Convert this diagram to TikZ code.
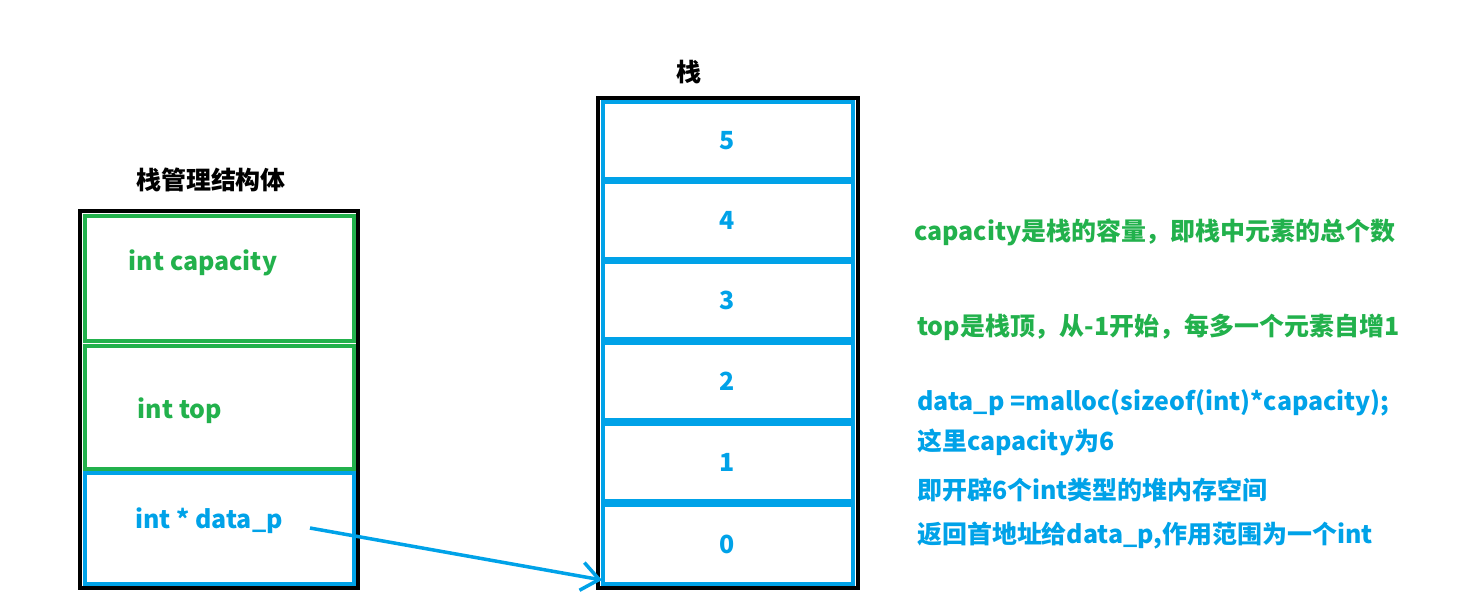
\documentclass[tikz,border=0pt]{standalone}
\usepackage{fontspec}
\setmainfont{Noto Sans CJK SC}
\usetikzlibrary{arrows.meta}
\definecolor{cgreen}{RGB}{34,177,76}
\definecolor{cblue}{RGB}{0,162,232}
\begin{document}
\begin{tikzpicture}[x=0.02cm,y=-0.02cm,
	txt/.style={font=\fontsize{14.2}{17}\selectfont\bfseries},
	gbox/.style={draw=cgreen,line width=2.2pt},
	bbox/.style={draw=cblue,line width=2.2pt},
	outer/.style={draw=black,line width=2.4pt}]
		\useasboundingbox (0,0) rectangle (1470,613);
		% management struct
		\node[txt] (mtitle) at (211,180) {栈管理结构体};
		\draw[outer] (80,211) rectangle (358,588);
		\draw[gbox] (85,216) rectangle (354,341);
		\draw[gbox] (85,346) rectangle (354,469);
		\draw[bbox] (85,473) rectangle (354,584);
		\node[txt,text=cgreen] (cap) at (203,263) {int capacity};
		\node[txt,text=cgreen] (top) at (180,411) {int top};
		\node[txt,text=cblue] (datap) at (209,521) {int * data\_p};
		% stack
		\node[txt] (stitle) at (689,72) {栈};
		\draw[outer] (598,98) rectangle (858,588);
		\foreach \ya/\yb/\v in {102/179/5,182/259/4,262/339/3,343/420/2,424/501/1,505/584/0}
		{
			\draw[bbox] (603,\ya) rectangle (853,\yb);
			\node[txt,text=cblue] (cell\v) at (727,{(\ya+\yb)/2}) {\v};
		}
		\coordinate (pstart) at (310,528);
		\coordinate (pend) at (602,580);
		\draw[cblue,line width=2pt,-{Straight Barb[length=10pt,width=16pt]}] (pstart) -- (pend);
		% notes
		\node[txt,text=cgreen,anchor=west] (n1) at (908,232) {capacity是栈的容量，即栈中元素的总个数};
		\node[txt,text=cgreen,anchor=west] (n2) at (911,327) {top是栈顶，从-1开始，每多一个元素自增1};
		\node[txt,text=cblue,anchor=west] (n3) at (911,403) {data\_p =malloc(sizeof(int)*capacity);};
		\node[txt,text=cblue,anchor=west] (n4) at (911,442) {这里capacity为6};
		\node[txt,text=cblue,anchor=west] (n5) at (911,490) {即开辟6个int类型的堆内存空间};
		\node[txt,text=cblue,anchor=west] (n6) at (911,536) {返回首地址给data\_p,作用范围为一个int};
\end{tikzpicture}
\end{document}
